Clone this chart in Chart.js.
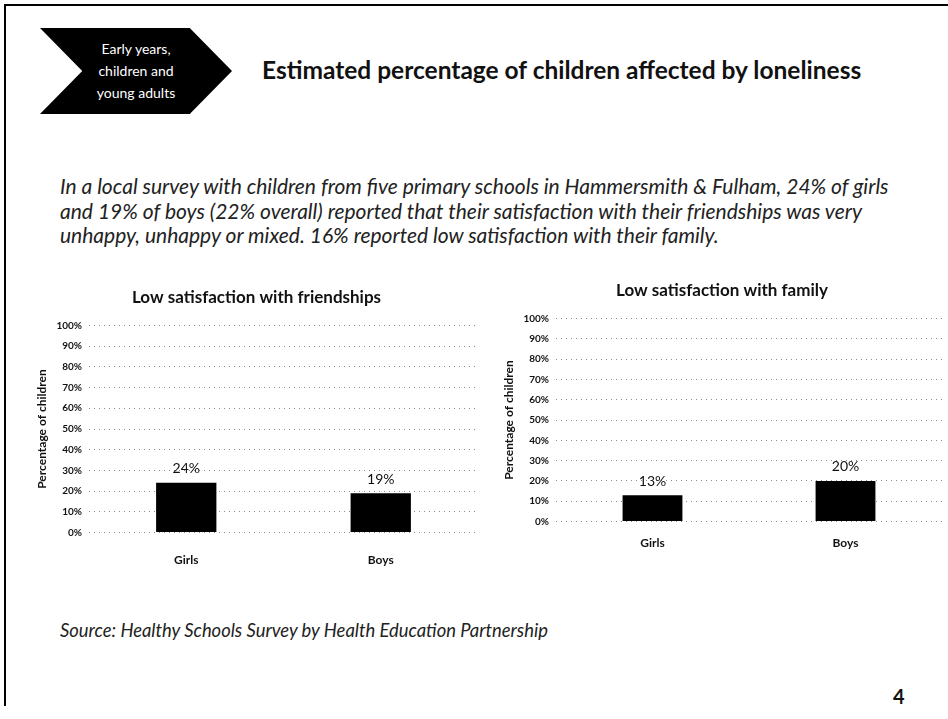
<!DOCTYPE html>
<html>
<head>
<meta charset="utf-8">
<script src="https://cdn.jsdelivr.net/npm/chart.js@4.4.1/dist/chart.umd.min.js"></script>
<style>
  html, body { margin: 0; padding: 0; background: #fff; }
  body { width: 948px; height: 719px; position: relative; overflow: hidden; font-family: Lato, "Open Sans", sans-serif; color: #111; }
  .frame-top { position: absolute; left: 4px; top: 4px; width: 944px; height: 2px; background: #000; }
  .frame-left { position: absolute; left: 4px; top: 4px; width: 2px; height: 702px; background: #000; }
  .chevron { position: absolute; left: 40px; top: 28px; width: 192px; height: 86px; background: #000;
    clip-path: polygon(0 0, 78% 0, 100% 50%, 78% 100%, 0 100%, 22% 50%); }
  .chevron-text { position: absolute; left: 40px; top: 28px; width: 182px; height: 86px; color: #fff;
    font-size: 14px; line-height: 22px; text-align: center; display: flex; align-items: center; justify-content: center; padding-left: 10px; box-sizing: border-box; }
  .title { position: absolute; left: 262px; top: 55px; font-size: 24.5px; font-weight: bold; color: #111; white-space: nowrap; }
  .para { position: absolute; left: 60px; top: 174px; font-size: 21px; line-height: 24.5px; font-style: italic; color: #222; white-space: nowrap; }
  .source { position: absolute; left: 60px; top: 619px; font-size: 18.4px; font-style: italic; color: #222; white-space: nowrap; }
  .page { position: absolute; left: 893px; top: 684px; font-size: 20px; font-weight: bold; }
  .chart { position: absolute; }
</style>
</head>
<body>
<div class="frame-top"></div>
<div class="frame-left"></div>
<div class="chevron"></div>
<div class="chevron-text"><div>Early years,<br>children and<br>young adults</div></div>
<div class="title">Estimated percentage of children affected by loneliness</div>
<div class="para">In a local survey with children from five primary schools in Hammersmith &amp; Fulham, 24% of girls<br>and 19% of boys (22% overall) reported that their satisfaction with their friendships was very<br>unhappy, unhappy or mixed. 16% reported low satisfaction with their family.</div>
<div class="chart" style="left:35px; top:283px; width:449px; height:304px;"><canvas id="friends"></canvas></div>
<div class="chart" style="left:502px; top:276px; width:446px; height:288px;"><canvas id="family"></canvas></div>
<div class="source">Source: Healthy Schools Survey by Health Education Partnership</div>
<div class="page">4</div>

<script>
// Survey results: share of children reporting low satisfaction (%)
const categories = ['Girls', 'Boys'];
const friendshipValues = [24, 19];
const familyValues = [13, 20];
const yTicks = [0, 10, 20, 30, 40, 50, 60, 70, 80, 90, 100];

const FONT = 'Lato, "Open Sans", sans-serif';

// Writes each bar's value just above it
const valueLabels = {
  id: 'valueLabels',
  afterDatasetsDraw(chart) {
    const ctx = chart.ctx;
    const ds = chart.data.datasets[0];
    chart.getDatasetMeta(0).data.forEach((bar, i) => {
      ctx.save();
      ctx.font = '14px ' + FONT;
      ctx.fillStyle = '#111';
      ctx.textAlign = 'center';
      ctx.textBaseline = 'bottom';
      ctx.fillText(ds.data[i] + '%', bar.x, bar.y - 7);
      ctx.restore();
    });
  }
};

function makeChart(id, title, values, xPad) {
  return new Chart(document.getElementById(id), {
    type: 'bar',
    data: {
      labels: categories,
      datasets: [{ data: values, backgroundColor: '#000', borderWidth: 0, barPercentage: 0.31, categoryPercentage: 1 }]
    },
    options: {
      responsive: true,
      maintainAspectRatio: false,
      animation: false,
      layout: { padding: { left: 0, right: 6, top: 0, bottom: 0 } },
      plugins: {
        legend: { display: false },
        tooltip: { enabled: false },
        title: { display: true, text: title, color: '#111', font: { family: FONT, size: 17, weight: 'bold' }, padding: { top: 4, bottom: 18 } }
      },
      scales: {
        x: {
          grid: { display: false, drawTicks: false },
          border: { display: false },
          ticks: { color: '#111', font: { family: FONT, size: 12, weight: 'bold' }, padding: xPad }
        },
        y: {
          min: 0, max: 100,
          afterBuildTicks(axis) { axis.ticks = yTicks.map(v => ({ value: v })); },
          grid: { color: '#8a8a8a', lineWidth: 1, drawTicks: false },
          border: { display: false, dash: [1, 4] },
          ticks: { color: '#111', font: { family: FONT, size: 10, weight: 'bold' }, padding: 7, callback: v => v + '%' },
          title: { display: true, text: 'Percentage of children', color: '#111', font: { family: FONT, size: 12, weight: 'bold' }, padding: { top: 0, bottom: 0 } }
        }
      }
    },
    plugins: [valueLabels]
  });
}

makeChart('friends', 'Low satisfaction with friendships', friendshipValues, 20);
makeChart('family', 'Low satisfaction with family', familyValues, 14);
</script>
</body>
</html>
